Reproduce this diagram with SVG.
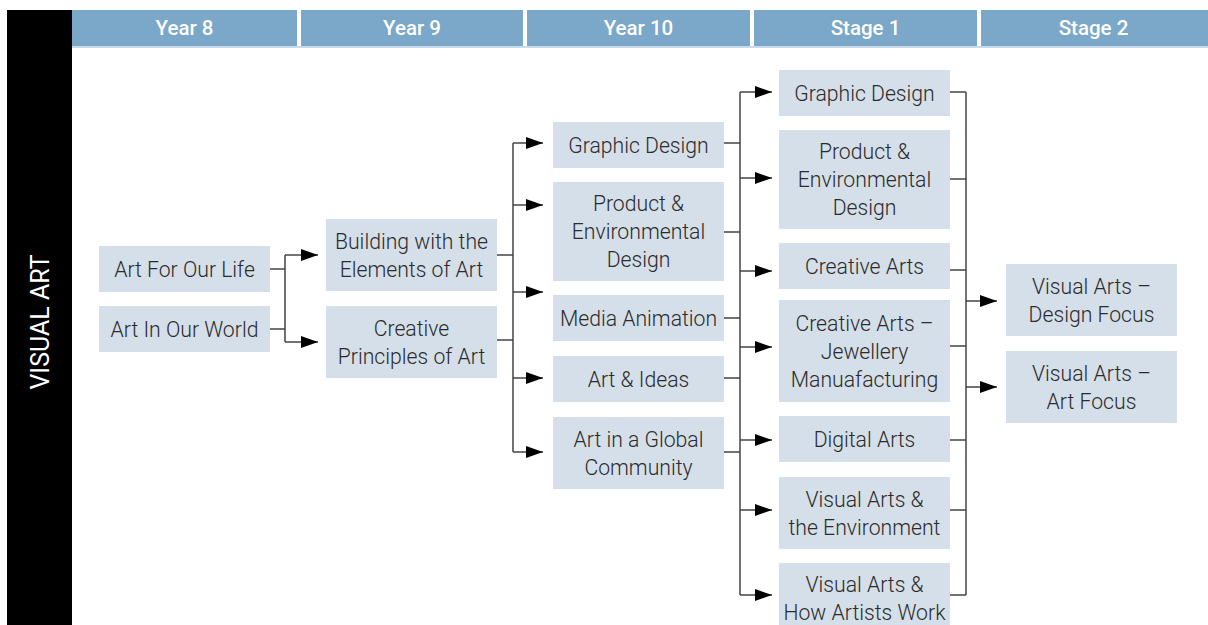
<svg xmlns="http://www.w3.org/2000/svg" width="1208" height="625" viewBox="0 0 1208 625">
<style>
.hdr{fill:#7BA7C8}
.ht{fill:#fff;font-family:Roboto,"Liberation Sans",sans-serif;font-size:20.5px;font-weight:500;text-anchor:middle}
.box{fill:#D5DFE9}
.t{fill:#2b2b2b;font-family:Roboto,"Liberation Sans",sans-serif;font-size:21.2px;font-weight:300;text-anchor:middle}
.c{fill:none;stroke:#444;stroke-width:1.5}
.a{fill:none;stroke:#444;stroke-width:1.5;marker-end:url(#arr)}
</style>
<defs>
<marker id="arr" markerUnits="userSpaceOnUse" markerWidth="18" markerHeight="14" refX="17" refY="7" orient="auto">
<path d="M0,1 L17,7 L0,13 z" fill="#000"/>
</marker>
</defs>
<rect width="1208" height="625" fill="#fff"/>
<g id="sidebar">
<rect x="7" y="10" width="65" height="615" fill="#000"/>
<text transform="translate(49,322) rotate(-90)" fill="#fff" font-family="Roboto,'Liberation Sans',sans-serif" font-size="25" text-anchor="middle">VISUAL ART</text>
</g>
<g id="headers">
<rect x="72" y="46" width="1136" height="2" fill="#C9DAE8"/>
<rect class="hdr" x="72" y="10" width="225" height="36"/>
<rect class="hdr" x="301" y="10" width="222" height="36"/>
<rect class="hdr" x="527" y="10" width="223" height="36"/>
<rect class="hdr" x="754" y="10" width="223" height="36"/>
<rect class="hdr" x="981" y="10" width="227" height="36"/>
<text class="ht" x="184.5" y="35">Year 8</text>
<text class="ht" x="412" y="35">Year 9</text>
<text class="ht" x="638.5" y="35">Year 10</text>
<text class="ht" x="865.5" y="35">Stage 1</text>
<text class="ht" x="1093.5" y="35">Stage 2</text>
</g>
<g id="connectors">
<path class="c" d="M270,269 H285 M270,329 H285 M285,255 V342"/>
<path class="a" d="M285,255 H318"/>
<path class="a" d="M285,342 H318"/>
<path class="c" d="M497,255 H513 M497,340 H513 M513,143 V452"/>
<path class="a" d="M513,143 H543"/>
<path class="a" d="M513,205 H543"/>
<path class="a" d="M513,292 H543"/>
<path class="a" d="M513,378 H543"/>
<path class="a" d="M513,452 H543"/>
<path class="c" d="M724,143 H740 M724,232 H740 M724,318 H740 M724,378 H740 M724,452 H740 M740,92 V595"/>
<path class="a" d="M740,92 H772"/>
<path class="a" d="M740,178 H772"/>
<path class="a" d="M740,271 H772"/>
<path class="a" d="M740,347 H772"/>
<path class="a" d="M740,440 H772"/>
<path class="a" d="M740,510 H772"/>
<path class="a" d="M740,595 H772"/>
<path class="c" d="M950,92 H966 M950,179 H966 M950,270 H966 M950,346 H966 M950,440 H966 M950,510 H966 M950,595 H966 M966,92 V595"/>
<path class="a" d="M966,301 H997"/>
<path class="a" d="M966,387 H997"/>
</g>
<g id="y8-life"><rect class="box" x="99" y="246" width="171" height="46"/><text class="t" x="184.5" y="276.5">Art For Our Life</text></g>
<g id="y8-world"><rect class="box" x="99" y="306" width="171" height="46"/><text class="t" x="184.5" y="336.5">Art In Our World</text></g>
<g id="y9-building"><rect class="box" x="326" y="219" width="171" height="72"/><text class="t" x="411.5" y="248.5">Building with the</text><text class="t" x="411.5" y="276.5">Elements of Art</text></g>
<g id="y9-creative"><rect class="box" x="326" y="306" width="171" height="72"/><text class="t" x="411.5" y="335.5">Creative</text><text class="t" x="411.5" y="363.5">Principles of Art</text></g>
<g id="y10-graphic"><rect class="box" x="553" y="122" width="171" height="46"/><text class="t" x="638.5" y="152.5">Graphic Design</text></g>
<g id="y10-product"><rect class="box" x="553" y="182" width="171" height="99"/><text class="t" x="638.5" y="210.5">Product &amp;</text><text class="t" x="638.5" y="238.5">Environmental</text><text class="t" x="638.5" y="266.5">Design</text></g>
<g id="y10-media"><rect class="box" x="553" y="295" width="171" height="46"/><text class="t" x="638.5" y="325.5">Media Animation</text></g>
<g id="y10-ideas"><rect class="box" x="553" y="356" width="171" height="46"/><text class="t" x="638.5" y="386.5">Art &amp; Ideas</text></g>
<g id="y10-global"><rect class="box" x="553" y="417" width="171" height="72"/><text class="t" x="638.5" y="446.5">Art in a Global</text><text class="t" x="638.5" y="474.5">Community</text></g>
<g id="s1-graphic"><rect class="box" x="779" y="70" width="171" height="46"/><text class="t" x="864.5" y="100.5">Graphic Design</text></g>
<g id="s1-product"><rect class="box" x="779" y="130" width="171" height="99"/><text class="t" x="864.5" y="158.5">Product &amp;</text><text class="t" x="864.5" y="186.5">Environmental</text><text class="t" x="864.5" y="214.5">Design</text></g>
<g id="s1-creative"><rect class="box" x="779" y="243" width="171" height="46"/><text class="t" x="864.5" y="273.5">Creative Arts</text></g>
<g id="s1-jewellery"><rect class="box" x="779" y="300" width="171" height="102"/><text class="t" x="864.5" y="330.5">Creative Arts –</text><text class="t" x="864.5" y="358.5">Jewellery</text><text class="t" x="864.5" y="386.5">Manuafacturing</text></g>
<g id="s1-digital"><rect class="box" x="779" y="416" width="171" height="46"/><text class="t" x="864.5" y="446.5">Digital Arts</text></g>
<g id="s1-environment"><rect class="box" x="779" y="477" width="171" height="72"/><text class="t" x="864.5" y="506.5">Visual Arts &amp;</text><text class="t" x="864.5" y="534.5">the Environment</text></g>
<g id="s1-artists"><rect class="box" x="779" y="563" width="171" height="62"/><text class="t" x="864.5" y="591.5">Visual Arts &amp;</text><text class="t" x="864.5" y="619.5">How Artists Work</text></g>
<g id="s2-design"><rect class="box" x="1006" y="264" width="171" height="72"/><text class="t" x="1091.5" y="293.5">Visual Arts –</text><text class="t" x="1091.5" y="321.5">Design Focus</text></g>
<g id="s2-art"><rect class="box" x="1006" y="351" width="171" height="72"/><text class="t" x="1091.5" y="380.5">Visual Arts –</text><text class="t" x="1091.5" y="408.5">Art Focus</text></g>
</svg>
